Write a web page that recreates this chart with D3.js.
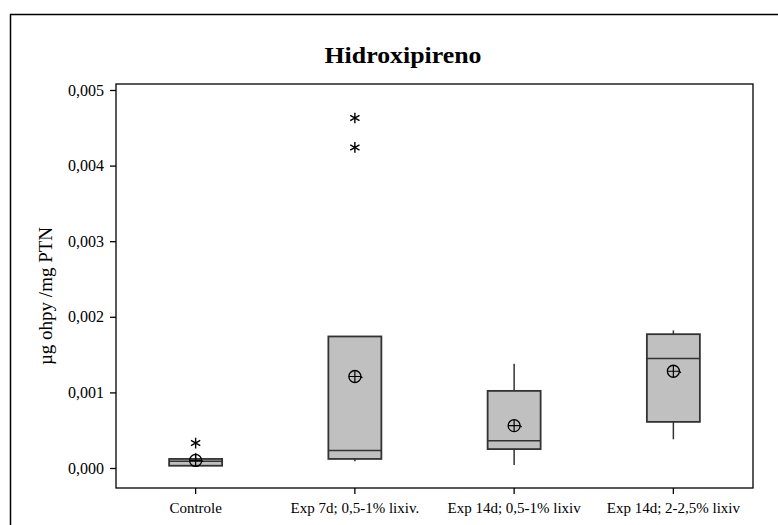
<!DOCTYPE html>
<html>
<head>
<meta charset="utf-8">
<script src="https://cdn.jsdelivr.net/npm/d3@7/dist/d3.min.js"></script>
<style>
  html, body { margin: 0; padding: 0; background: #fff; }
  svg { display: block; }
  text { font-family: "Liberation Serif", "Times New Roman", serif; fill: #000; }
</style>
</head>
<body>
<svg id="chart" width="778" height="525"></svg>
<script>
// Box plot data (µg ohpy / mg PTN)
const categories = ["Controle", "Exp 7d; 0,5-1% lixiv.", "Exp 14d; 0,5-1% lixiv", "Exp 14d; 2-2,5% lixiv"];
const whiskerLow  = [0.00002, 0.00009, 0.00004, 0.00038];
const q1          = [0.00003, 0.00012, 0.00025, 0.00061];
const medians     = [0.00009, 0.00023, 0.00036, 0.00145];
const q3          = [0.00012, 0.00174, 0.00102, 0.00177];
const whiskerHigh = [0.00020, 0.00174, 0.00138, 0.00182];
const means       = [0.00010, 0.00121, 0.00056, 0.00128];
const outliers    = [[0.00033], [0.00463, 0.00424], [], []];
const yTicks      = [0, 0.001, 0.002, 0.003, 0.004, 0.005];

const svg = d3.select("#chart");
const plot = { left: 116, top: 84, right: 753, bottom: 488 };

// Outer frame
svg.append("rect")
  .attr("x", 10.5).attr("y", 14.5)
  .attr("width", 820).attr("height", 560)
  .attr("fill", "none").attr("stroke", "#000").attr("stroke-width", 1.5);

const x = d3.scaleBand().domain(categories).range([plot.left, plot.right]);
const y = d3.scaleLinear().domain([0, 0.005]).range([468, 90]);

// Title
svg.append("text")
  .attr("x", 403).attr("y", 63)
  .attr("text-anchor", "middle")
  .attr("font-size", 24).attr("font-weight", "bold")
  .attr("textLength", 157).attr("lengthAdjust", "spacingAndGlyphs")
  .text("Hidroxipireno");

// Y axis
const yAxis = d3.axisLeft(y).tickValues(yTicks).tickSize(6).tickPadding(6)
  .tickFormat(d => d3.format(".3f")(d).replace(".", ","));
const gy = svg.append("g").attr("transform", `translate(${plot.left},0)`).call(yAxis);
gy.select(".domain").remove();
gy.selectAll("line").attr("stroke", "#000").attr("stroke-width", 1.3);
gy.selectAll("text").attr("font-size", 16).attr("font-family", "Liberation Serif").attr("fill", "#000");

// X axis
const xAxis = d3.axisBottom(x).tickSize(6).tickPadding(8);
const gx = svg.append("g").attr("transform", `translate(0,${plot.bottom})`).call(xAxis);
gx.select(".domain").remove();
gx.selectAll("line").attr("stroke", "#000").attr("stroke-width", 1.3);
gx.selectAll("text").attr("font-size", 15).attr("font-family", "Liberation Serif").attr("fill", "#000");

// Plot frame
svg.append("rect")
  .attr("x", plot.left).attr("y", plot.top)
  .attr("width", plot.right - plot.left).attr("height", plot.bottom - plot.top)
  .attr("fill", "none").attr("stroke", "#000").attr("stroke-width", 1.3);

// Y axis title
svg.append("text")
  .attr("transform", "translate(52,296) rotate(-90)")
  .attr("text-anchor", "middle")
  .attr("font-size", 19)
  .text("µg ohpy /mg PTN");

const boxW = 53;
const stroke = "#333";
const groups = svg.append("g").selectAll("g")
  .data(categories.map((c, i) => ({ c, i })))
  .join("g")
  .attr("transform", d => `translate(${x(d.c) + x.bandwidth() / 2},0)`);

// Whiskers
groups.append("line")
  .attr("x1", 0).attr("x2", 0)
  .attr("y1", d => y(whiskerHigh[d.i])).attr("y2", d => y(q3[d.i]))
  .attr("stroke", stroke).attr("stroke-width", 1.5);
groups.append("line")
  .attr("x1", 0).attr("x2", 0)
  .attr("y1", d => y(q1[d.i])).attr("y2", d => y(whiskerLow[d.i]))
  .attr("stroke", stroke).attr("stroke-width", 1.5);

// Boxes
groups.append("rect")
  .attr("x", -boxW / 2).attr("width", boxW)
  .attr("y", d => y(q3[d.i]))
  .attr("height", d => y(q1[d.i]) - y(q3[d.i]))
  .attr("fill", "#c0c0c0").attr("stroke", stroke).attr("stroke-width", 1.8);

// Medians
groups.append("line")
  .attr("x1", -boxW / 2).attr("x2", boxW / 2)
  .attr("y1", d => y(medians[d.i])).attr("y2", d => y(medians[d.i]))
  .attr("stroke", stroke).attr("stroke-width", 1.5);

// Mean symbols (circle with cross)
const meanG = groups.append("g")
  .attr("transform", d => `translate(0,${y(means[d.i])})`);
meanG.append("circle").attr("r", 6)
  .attr("fill", "none").attr("stroke", "#000").attr("stroke-width", 1.3);
meanG.append("path").attr("d", "M-6,0H6M0,-6V6M6,0L7.5,1.5")
  .attr("fill", "none").attr("stroke", "#000").attr("stroke-width", 1.2);

// Outliers
const star = d3.symbol().type(d3.symbolAsterisk).size(80);
groups.selectAll("path.outlier")
  .data(d => outliers[d.i])
  .join("path")
  .attr("class", "outlier")
  .attr("transform", v => `translate(0,${y(v)})`)
  .attr("d", star())
  .attr("fill", "none").attr("stroke", "#000").attr("stroke-width", 1.4);
</script>
</body>
</html>
